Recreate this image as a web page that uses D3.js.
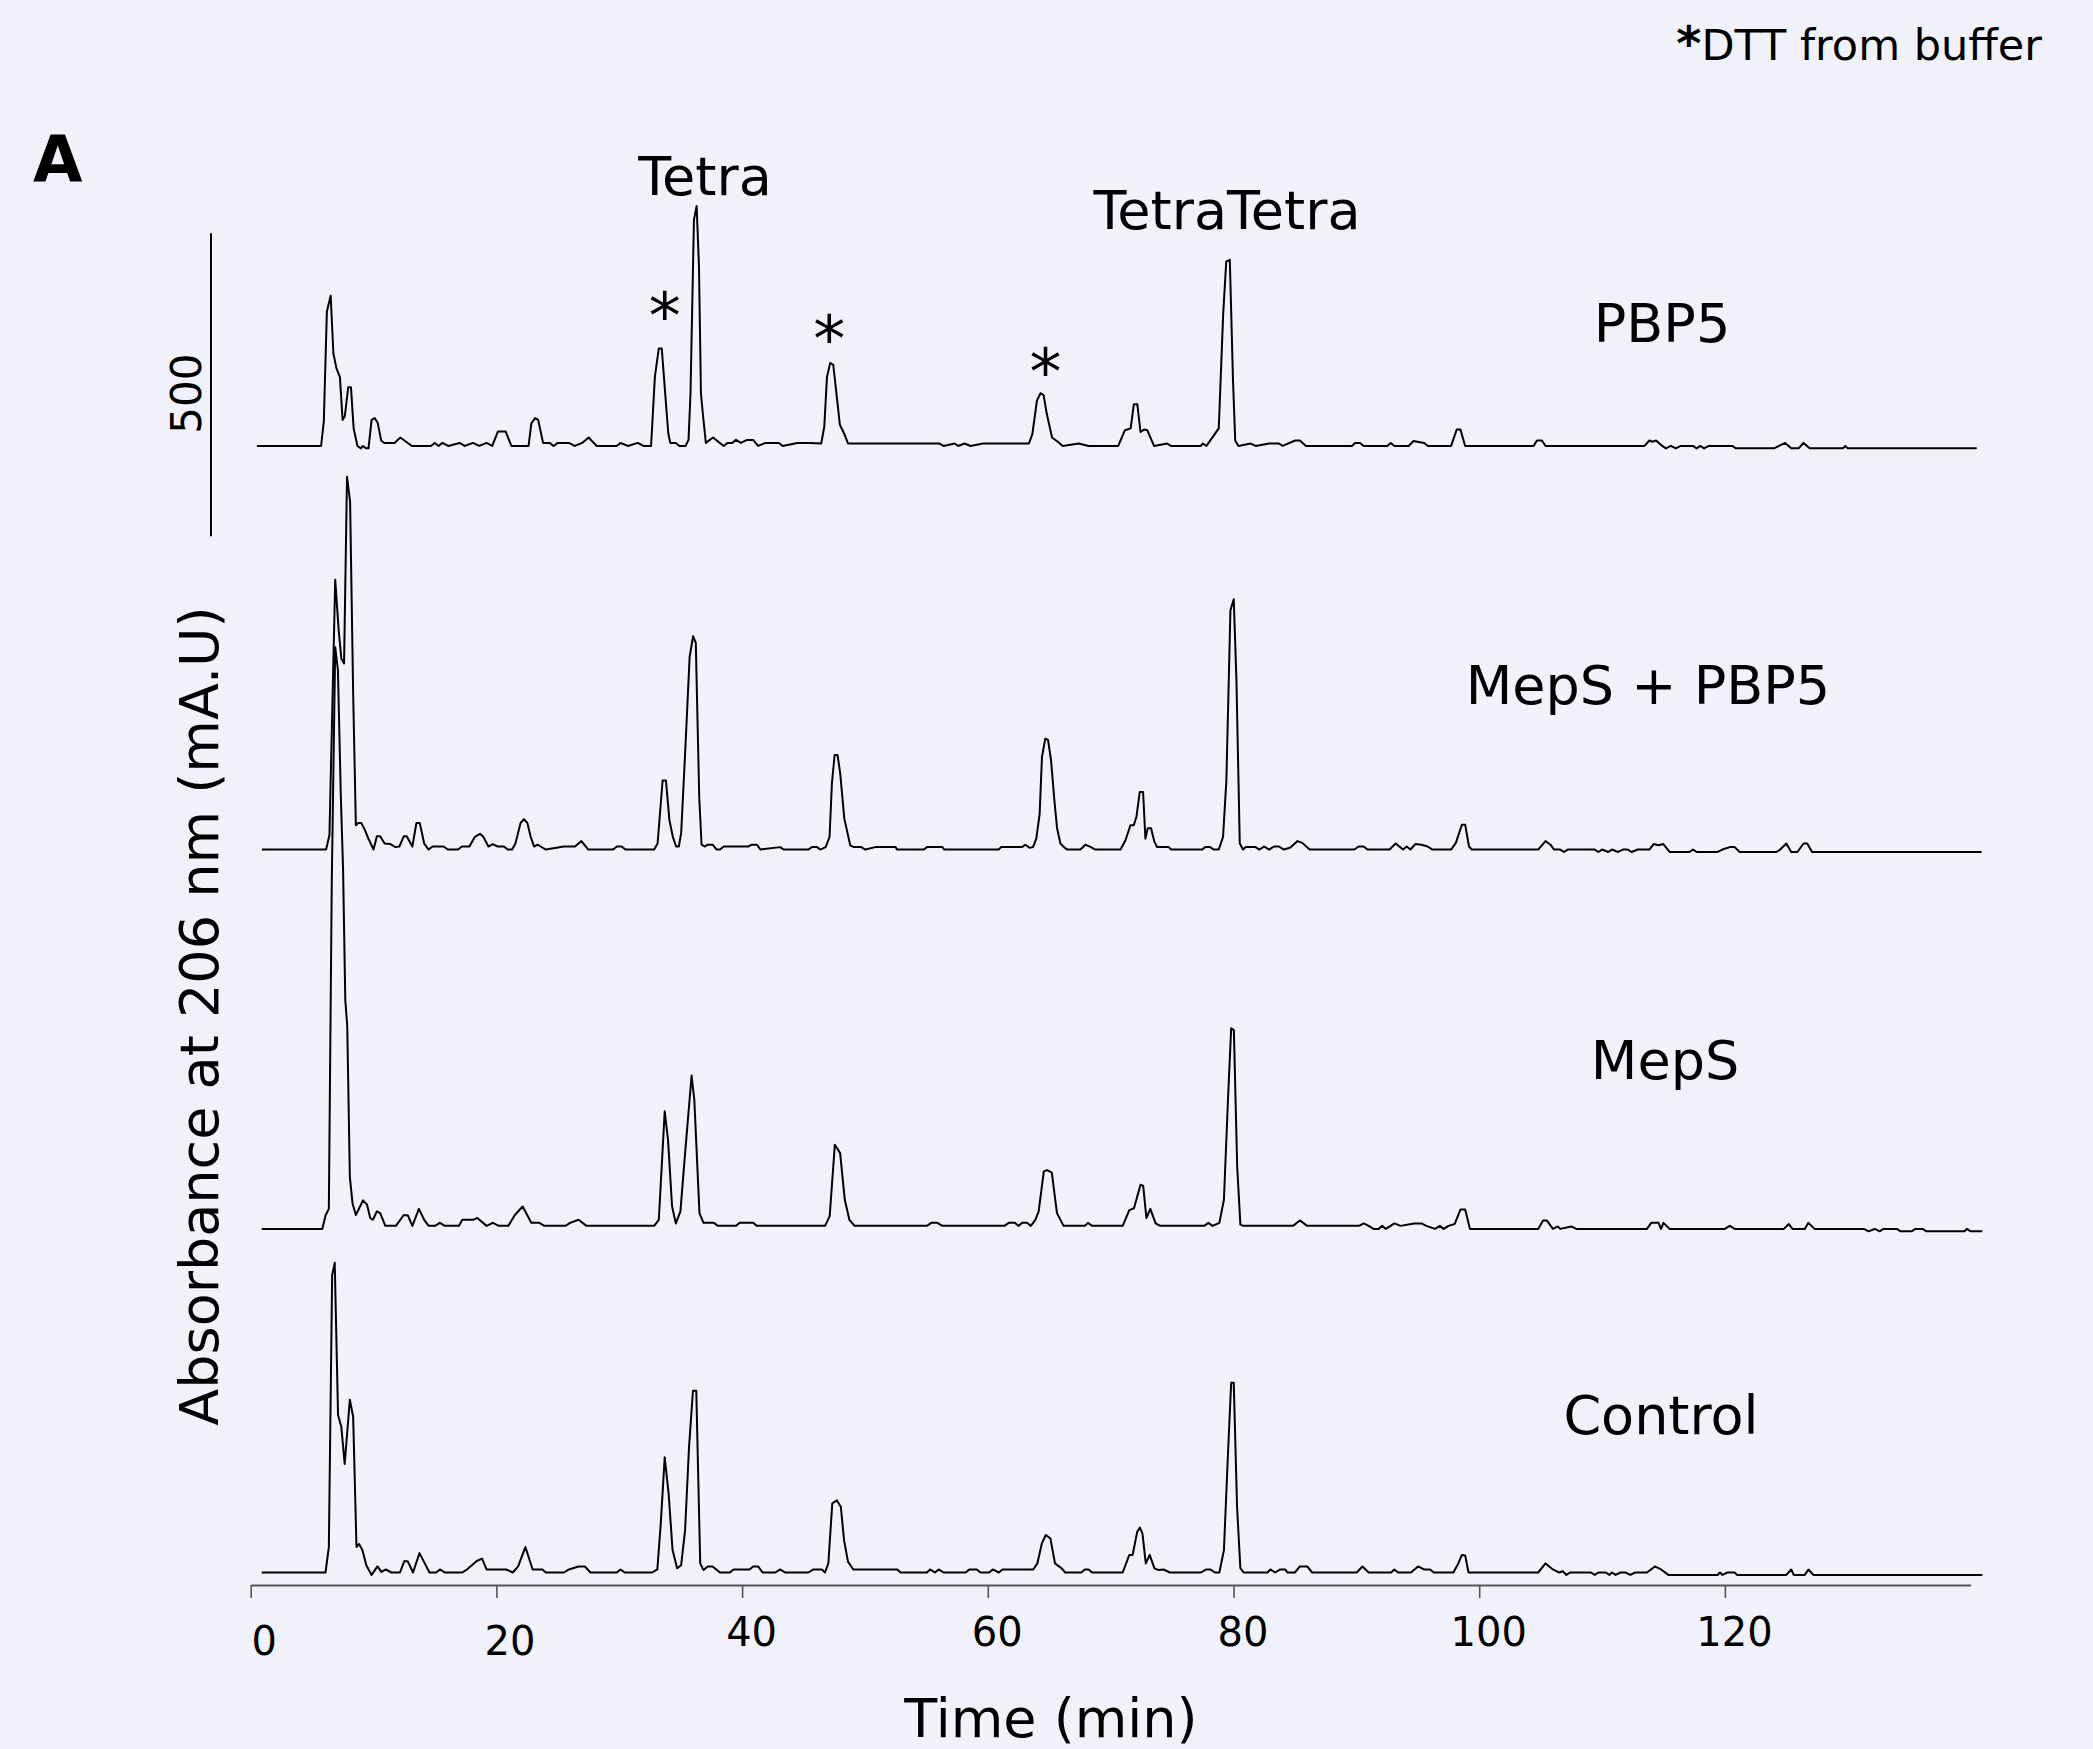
<!DOCTYPE html>
<html lang="en">
<head>
<meta charset="utf-8">
<title>HPLC traces</title>
<script src="https://d3js.org/d3.v7.min.js"></script>
<style>
  body { margin: 0; background: #f1f1fa; }
  text { font-family: "DejaVu Sans", Verdana, sans-serif; fill: #000; }
</style>
</head>
<body>
<script>
// ---- data (time in min, absorbance in mA.U above each trace's own baseline) ----
var seriesNames = ["PBP5", "MepS + PBP5", "MepS", "Control"];
var seriesOffsets = [1859, 1193, 572, 0];   // vertical stacking, mA.U

var tracePBP5 = [[0.5,0],[5.73,0],[5.95,40],[6.2,222],[6.51,248],[6.73,153],[6.98,128],[7.26,114],[7.48,43],[7.66,49],[7.94,97],[8.16,97],[8.38,29],[8.69,0],[8.97,-4],[9.13,0],[9.4,-4],[9.59,-4],[9.84,43],[10.09,46],[10.34,38],[10.62,9],[10.87,5],[11.71,5],[12.18,14],[13.12,0],[14.67,0],[14.98,5],[15.29,0],[15.61,5],[16.07,0],[17.01,5],[17.4,0],[18.1,5],[18.6,0],[19.2,5],[19.66,0],[20.13,24],[20.75,24],[21.22,0],[22.62,0],[22.84,37],[23.15,46],[23.4,43],[23.8,5],[24.33,5],[24.65,0],[25.0,5],[25.9,5],[26.36,0],[26.98,5],[27.51,14],[28.17,0],[29.79,0],[30.1,5],[30.72,0],[31.5,5],[31.97,0],[32.59,0],[32.9,114],[33.22,161],[33.46,161],[33.78,76],[33.99,21],[34.15,5],[34.6,5],[34.9,0],[35.39,0],[35.64,10],[35.8,87],[36.08,373],[36.3,396],[36.49,296],[36.65,87],[36.8,54],[37.05,5],[37.63,14],[38.5,0],[38.8,5],[39.2,5],[39.5,10],[39.9,5],[40.4,10],[40.9,10],[41.3,0],[41.9,5],[43.0,5],[43.3,0],[44.5,5],[45.5,5],[46.44,4],[46.69,32],[46.91,114],[47.17,137],[47.42,134],[47.71,81],[47.96,35],[48.36,18],[48.62,4],[56.07,4],[56.4,0],[57.3,4],[57.6,0],[58.1,4],[58.6,0],[59.6,4],[63.35,4],[63.63,20],[64.0,75],[64.29,87],[64.54,84],[64.8,53],[65.23,14],[65.7,7],[66.1,0],[67.4,4],[68.2,0],[70.62,0],[71.16,26],[71.63,29],[71.89,69],[72.17,69],[72.43,23],[72.72,27],[72.98,26],[73.53,0],[74.6,4],[74.9,0],[77.34,0],[77.5,4],[77.8,0],[78.8,29],[79.16,218],[79.41,304],[79.7,307],[79.96,108],[80.14,9],[80.4,0],[81.4,4],[81.8,0],[82.9,4],[83.7,4],[84.0,0],[85.02,9],[85.4,9],[85.9,0],[89.64,0],[89.9,5],[90.3,5],[90.6,0],[92.51,0],[92.8,5],[93.1,0],[94.26,0],[94.64,8],[95.5,5],[95.83,0],[97.71,0],[98.17,27],[98.47,27],[98.86,0],[104.43,0],[104.7,9],[105.1,9],[105.4,0],[113.46,0],[113.85,9],[114.1,7],[114.4,9],[114.9,0],[115.2,-4],[115.6,0],[116.0,-4],[116.4,0],[117.4,0],[117.7,-4],[118.0,0],[118.3,-4],[118.7,0],[120.6,0],[120.9,-4],[124.0,-4],[124.4,0],[124.9,5],[125.4,-4],[126.0,-4],[126.4,5],[126.9,-4],[129.6,-4],[129.8,0],[130.0,-4],[140.5,-4]];

var traceMepSPBP5 = [[0.91,0],[6.14,0],[6.41,24],[6.88,445],[7.16,362],[7.38,315],[7.6,307],[7.84,615],[8.09,574],[8.34,258],[8.56,40],[8.75,44],[9.0,44],[9.3,32],[9.58,18],[10.0,0],[10.27,22],[10.54,22],[10.9,10],[11.37,9],[11.78,4],[12.1,5],[12.47,22],[12.7,22],[13.16,5],[13.49,44],[13.76,44],[14.12,10],[14.48,0],[14.8,5],[15.7,5],[16.05,0],[16.87,0],[17.2,5],[17.8,5],[18.25,21],[18.66,26],[18.94,21],[19.35,5],[19.7,9],[20.1,5],[20.6,5],[20.92,0],[21.28,0],[21.55,10],[21.97,44],[22.24,50],[22.52,44],[22.79,21],[23.07,5],[23.35,8],[23.6,5],[24.03,0],[25.5,5],[26.4,5],[26.92,14],[27.48,0],[29.5,0],[29.8,5],[30.2,5],[30.5,0],[32.84,0],[33.12,10],[33.53,114],[33.8,114],[34.08,49],[34.36,21],[34.63,5],[34.85,5],[35.04,27],[35.4,175],[35.73,318],[36.01,352],[36.23,341],[36.51,87],[36.7,8],[36.98,5],[37.2,8],[37.6,8],[37.93,0],[38.2,0],[38.5,5],[40.5,5],[40.8,8],[41.2,8],[41.5,0],[43.1,4],[43.4,0],[45.41,0],[45.68,4],[46.1,4],[46.36,0],[46.8,4],[47.12,21],[47.31,109],[47.53,156],[47.77,156],[47.99,125],[48.32,51],[48.53,32],[48.8,7],[49.1,4],[49.7,4],[50.03,0],[50.84,4],[52.5,4],[52.6,0],[54.8,0],[55.05,4],[56.3,4],[56.46,0],[60.88,0],[61.1,4],[62.78,4],[63.05,8],[63.4,3],[63.68,4],[63.95,18],[64.22,59],[64.41,153],[64.68,183],[64.9,181],[65.15,147],[65.42,81],[65.64,35],[65.91,10],[66.2,4],[66.45,0],[67.54,0],[67.94,8],[68.4,4],[68.75,0],[70.8,0],[71.2,15],[71.61,40],[71.88,40],[72.1,54],[72.37,95],[72.64,95],[72.83,18],[73.02,35],[73.29,35],[73.56,13],[73.78,4],[74.73,4],[74.92,0],[77.45,0],[77.7,4],[78.1,4],[78.4,0],[78.8,0],[79.15,21],[79.42,114],[79.75,395],[80.02,413],[80.24,279],[80.51,10],[80.78,0],[81.0,4],[81.8,4],[82.1,0],[82.5,5],[82.9,0],[83.3,5],[83.7,5],[84.1,0],[84.6,3],[85.22,14],[85.6,11],[86.2,0],[89.83,0],[90.2,5],[90.6,5],[90.9,0],[92.7,0],[93.2,10],[93.8,0],[94.1,5],[94.4,0],[94.8,9],[95.3,8],[95.8,5],[96.2,0],[97.71,0],[98.1,11],[98.59,41],[98.86,41],[99.17,5],[99.4,0],[104.8,0],[105.4,14],[105.8,8],[106.1,0],[106.6,0],[106.9,-4],[107.2,0],[109.4,0],[109.7,-4],[110.0,0],[110.5,-4],[110.8,0],[111.3,-4],[111.7,0],[112.1,0],[112.4,-4],[112.9,0],[113.85,0],[114.2,9],[114.6,7],[114.99,9],[115.5,-4],[117.1,-4],[117.4,0],[117.7,-4],[119.4,-4],[119.8,0],[120.4,4],[120.8,4],[121.2,-4],[124.2,-4],[124.5,0],[125.0,10],[125.4,-4],[125.9,-4],[126.4,10],[126.7,10],[127.1,-4],[140.9,-4]];

var traceMepS = [[0.9,-5],[5.83,-5],[6.09,17],[6.36,28],[6.6,570],[6.88,955],[7.1,917],[7.33,714],[7.52,587],[7.7,373],[7.86,329],[8.07,81],[8.29,37],[8.56,18],[9.14,42],[9.47,35],[9.73,13],[9.95,10],[10.27,24],[10.54,21],[10.96,0],[11.82,0],[12.46,18],[12.8,17],[13.16,0],[13.69,28],[14.12,10],[14.49,0],[15.0,0],[15.4,5],[15.8,0],[16.95,0],[17.22,10],[18.1,10],[18.45,13],[19.2,0],[19.7,5],[20.2,0],[20.97,0],[21.5,18],[22.14,32],[22.84,5],[23.5,5],[23.9,0],[25.62,0],[26.0,5],[26.69,10],[27.33,0],[32.84,0],[33.22,10],[33.7,189],[33.97,142],[34.3,32],[34.61,4],[34.98,24],[35.36,120],[35.89,248],[36.11,208],[36.53,21],[36.86,5],[37.7,5],[38.03,0],[39.5,0],[39.8,5],[40.9,5],[41.2,0],[46.75,0],[47.13,16],[47.55,134],[47.98,120],[48.36,43],[48.73,10],[49.16,0],[55.04,0],[55.4,5],[55.9,5],[56.3,0],[61.35,0],[61.7,5],[62.2,5],[62.5,0],[62.8,5],[63.2,5],[63.5,0],[63.87,10],[64.14,24],[64.56,90],[64.83,92],[65.21,88],[65.63,21],[66.17,0],[67.9,0],[68.15,5],[68.5,0],[70.98,0],[71.52,26],[71.9,29],[72.43,68],[72.65,66],[72.91,13],[73.23,28],[73.66,4],[74.03,0],[77.62,0],[77.95,5],[78.3,0],[78.85,5],[79.22,43],[79.55,208],[79.81,326],[80.03,323],[80.3,98],[80.56,2],[80.8,0],[84.84,0],[85.4,9],[86.0,0],[90.22,0],[90.6,4],[91.0,0],[91.4,-5],[91.8,-5],[92.1,0],[92.4,-5],[93.1,4],[93.6,0],[94.7,4],[95.3,4],[95.7,0],[96.4,-5],[96.8,0],[97.1,-5],[97.5,0],[98.0,3],[98.47,27],[98.86,27],[99.25,-5],[104.8,-5],[105.2,9],[105.5,9],[106.0,-5],[106.4,-1],[106.6,-5],[107.5,-1],[107.9,-5],[113.66,-5],[114.0,5],[114.6,5],[114.8,-5],[115.0,5],[115.5,-5],[120.0,-5],[120.4,0],[120.8,-5],[124.8,-5],[125.2,3],[125.5,-5],[126.5,-5],[126.8,5],[127.3,-5],[131.3,-5],[131.7,-9],[132.2,-5],[132.6,-9],[132.9,-5],[134.0,-5],[134.3,-9],[135.2,-9],[135.5,-5],[136.1,-5],[136.4,-9],[139.5,-9],[139.7,-5],[140.0,-9],[140.95,-9]];

var traceControl = [[0.9,0],[6.09,0],[6.36,42],[6.63,491],[6.84,511],[7.11,260],[7.38,240],[7.65,179],[8.07,285],[8.34,257],[8.61,42],[8.82,47],[9.09,37],[9.41,12],[9.84,-4],[10.32,10],[10.64,1],[11.0,5],[11.45,0],[12.15,0],[12.51,19],[12.8,18],[13.21,0],[13.74,32],[14.17,15],[14.55,0],[15.1,0],[15.4,5],[15.8,0],[17.22,0],[17.6,5],[18.4,19],[18.83,23],[19.2,5],[20.8,5],[21.34,0],[21.77,10],[22.36,42],[22.95,5],[23.75,5],[24.02,0],[25.5,0],[25.9,5],[26.69,10],[27.2,10],[27.65,0],[29.8,0],[30.1,5],[30.45,0],[32.68,0],[33.1,5],[33.38,81],[33.7,190],[34.02,130],[34.34,37],[34.71,7],[35.04,12],[35.36,70],[35.68,207],[36.0,300],[36.27,300],[36.59,15],[36.86,4],[37.2,10],[37.6,10],[38.2,0],[39.0,0],[39.3,5],[40.6,5],[40.9,10],[41.3,10],[41.67,0],[42.7,0],[43.1,5],[43.5,0],[45.4,0],[45.8,5],[46.5,5],[46.75,0],[47.02,15],[47.34,114],[47.72,119],[48.04,108],[48.3,53],[48.62,18],[49.05,5],[52.63,5],[52.9,0],[55.04,0],[55.3,5],[55.7,0],[56.0,5],[56.4,0],[58.2,0],[58.5,5],[59.1,5],[59.4,0],[60.1,0],[60.4,5],[60.9,0],[61.2,5],[63.7,5],[64.03,15],[64.4,48],[64.72,62],[65.1,56],[65.47,15],[66.0,7],[66.3,0],[67.6,0],[67.9,5],[68.2,5],[68.5,0],[70.98,0],[71.52,29],[71.79,29],[72.16,67],[72.38,74],[72.59,64],[72.86,15],[73.18,29],[73.56,7],[73.9,4],[74.3,5],[74.83,0],[77.35,0],[77.78,5],[78.1,5],[78.5,0],[78.85,0],[79.22,37],[79.54,191],[79.81,313],[80.02,313],[80.29,108],[80.56,7],[80.83,0],[82.76,0],[83.0,5],[83.4,0],[83.8,5],[84.2,5],[84.4,0],[85.0,0],[85.4,10],[86.0,10],[86.4,0],[90.03,0],[90.5,10],[91.0,0],[92.83,0],[93.1,5],[93.4,0],[94.44,0],[95.02,10],[95.5,5],[96.0,5],[96.3,0],[97.9,0],[98.3,15],[98.59,29],[98.86,28],[99.13,0],[104.8,0],[105.4,15],[106.0,5],[106.5,0],[106.8,2],[107.1,-4],[107.4,0],[109.1,0],[109.4,-4],[109.7,0],[110.3,0],[110.6,-4],[110.8,0],[111.1,-4],[111.5,0],[111.9,0],[112.3,-4],[112.7,0],[113.66,0],[114.3,10],[114.8,5],[115.4,-4],[119.4,-4],[119.6,0],[119.8,-4],[120.2,0],[120.8,0],[121.0,-4],[125.0,-4],[125.4,5],[125.6,-4],[126.5,-4],[126.8,5],[127.2,-4],[140.95,-4]];

var traces = [tracePBP5, traceMepSPBP5, traceMepS, traceControl];

var xTicks = [0, 20, 40, 60, 80, 100, 120];
// "*" DTT marks on the PBP5 trace: time and height (mA.U above its baseline)
var dttTimes = [33.7, 47.1, 64.7];
var dttLevels = [227, 189, 135];
var scaleBarValue = 500;
var scaleBarStart = 1710;   // mA.U on the stacked scale

// ---- layout ----
var w = 2093, h = 1749;

var svg = d3.select("body").append("svg")
  .attr("width", w)
  .attr("height", h);

svg.append("rect").attr("width", w).attr("height", h).attr("fill", "#f1f1fa");

var xScale = d3.scaleLinear()
  .domain([0, 140])
  .range([250.7, 1970.6]);

// 500 mA.U = 303 px
var yScale = d3.scaleLinear()
  .domain([0, 1000])
  .range([1572.5, 966.5]);

// X axis
var xAxis = d3.axisBottom(xScale)
  .tickValues(xTicks)
  .tickSize(13)
  .tickSizeOuter(0)
  .tickFormat(d3.format("d"));

var gx = svg.append("g")
  .attr("transform", "translate(0,1585)")
  .call(xAxis);

gx.select(".domain").attr("stroke", "#555").attr("stroke-width", 2.2);
gx.selectAll(".tick line").attr("stroke", "#555").attr("stroke-width", 1.6);
gx.selectAll(".tick text")
  .attr("font-family", "DejaVu Sans")
  .attr("font-size", 40)
  .attr("fill", "#000")
  .attr("dy", null)
  .attr("x", d => d < 30 ? 13 : 9)
  .attr("y", d => d < 30 ? 70 : 61);

// traces
var line = d3.line()
  .x(d => xScale(d[0]));

traces.forEach(function (tr, i) {
  line.y(d => yScale(d[1] + seriesOffsets[i]));
  svg.append("path")
    .datum(tr)
    .attr("d", line)
    .attr("fill", "none")
    .attr("stroke", "#000")
    .attr("stroke-width", 2)
    .attr("stroke-linejoin", "round");
});

// series labels
var labelX = [1662, 1648, 1665, 1661];
var labelY = [342, 704, 1079, 1434];
svg.selectAll("text.series")
  .data(seriesNames)
  .enter()
  .append("text")
  .attr("class", "series")
  .attr("x", (d, i) => labelX[i])
  .attr("y", (d, i) => labelY[i])
  .attr("text-anchor", "middle")
  .attr("font-size", 54)
  .text(d => d);

// DTT asterisks
svg.selectAll("text.dtt")
  .data(dttTimes)
  .enter()
  .append("text")
  .attr("class", "dtt")
  .attr("x", d => xScale(d))
  .attr("y", (d, i) => yScale(dttLevels[i] + seriesOffsets[0]) + 30)
  .attr("text-anchor", "middle")
  .attr("font-size", 64)
  .text("*");

// peak names
svg.append("text")
  .attr("x", 705).attr("y", 195)
  .attr("text-anchor", "middle")
  .attr("font-size", 54)
  .text("Tetra");

svg.append("text")
  .attr("x", 1227).attr("y", 229)
  .attr("text-anchor", "middle")
  .attr("font-size", 54)
  .text("TetraTetra");

// scale bar
svg.append("line")
  .attr("x1", 211).attr("x2", 211)
  .attr("y1", yScale(scaleBarStart))
  .attr("y2", yScale(scaleBarStart + scaleBarValue))
  .attr("stroke", "#000")
  .attr("stroke-width", 2);

svg.append("text")
  .attr("transform", "translate(201," + (yScale(scaleBarStart + scaleBarValue / 2) + 9) + ") rotate(-90)")
  .attr("text-anchor", "middle")
  .attr("font-size", 42)
  .text(scaleBarValue);

// axis titles
svg.append("text")
  .attr("x", 1051).attr("y", 1737)
  .attr("text-anchor", "middle")
  .attr("font-size", 54)
  .text("Time (min)");

svg.append("text")
  .attr("transform", "translate(218,1016) rotate(-90)")
  .attr("text-anchor", "middle")
  .attr("font-size", 54)
  .text("Absorbance at 206 nm (mA.U)");

// panel letter and footnote
svg.append("text")
  .attr("x", 33).attr("y", 182)
  .attr("font-size", 64)
  .attr("font-weight", "bold")
  .text("A");

var note = svg.append("text")
  .attr("x", 2042).attr("y", 60)
  .attr("text-anchor", "end")
  .attr("font-size", 43);
note.append("tspan").attr("font-weight", "bold").attr("font-size", 48).text("*");
note.append("tspan").text("DTT from buffer");
</script>
</body>
</html>
